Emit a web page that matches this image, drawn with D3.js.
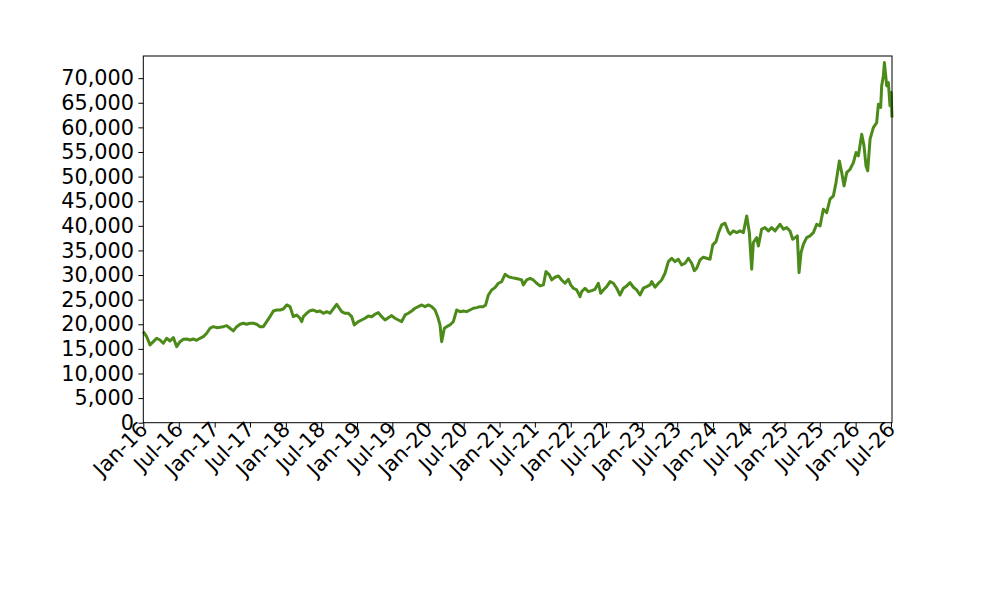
<!DOCTYPE html>
<html>
<head>
<meta charset="utf-8">
<script src="https://cdn.jsdelivr.net/npm/d3@7"></script>
<style>
  html, body { margin: 0; padding: 0; background: #fff; }
  svg { display: block; }
</style>
</head>
<body>
<svg id="chart" width="1000" height="600"></svg>
<script>
// Dates as decimal years
const dates = [
2016.000,2016.047,2016.094,2016.141,2016.188,2016.234,2016.281,2016.328,2016.375,2016.422,
2016.469,2016.515,2016.562,2016.609,2016.656,2016.702,2016.749,2016.796,2016.843,2016.890,
2016.937,2016.983,2017.030,2017.077,2017.124,2017.171,2017.217,2017.264,2017.311,2017.358,
2017.405,2017.451,2017.498,2017.545,2017.592,2017.639,2017.685,2017.732,2017.779,2017.826,
2017.873,2017.919,2017.966,2018.013,2018.060,2018.107,2018.153,2018.200,2018.224,2018.247,
2018.294,2018.341,2018.387,2018.434,2018.481,2018.528,2018.575,2018.621,2018.668,2018.715,
2018.785,2018.832,2018.879,2018.926,2018.963,2019.019,2019.066,2019.113,2019.160,2019.207,
2019.253,2019.300,2019.347,2019.394,2019.440,2019.487,2019.534,2019.581,2019.628,2019.675,
2019.721,2019.768,2019.815,2019.862,2019.909,2019.955,2020.002,2020.049,2020.096,2020.133,
2020.166,2020.189,2020.227,2020.260,2020.306,2020.353,2020.400,2020.447,2020.494,2020.540,
2020.587,2020.634,2020.681,2020.728,2020.774,2020.807,2020.845,2020.891,2020.938,2020.985,
2021.032,2021.079,2021.125,2021.172,2021.219,2021.266,2021.313,2021.336,2021.383,2021.430,
2021.476,2021.523,2021.570,2021.617,2021.654,2021.701,2021.734,2021.781,2021.828,2021.874,
2021.921,2021.968,2022.001,2022.038,2022.085,2022.132,2022.155,2022.202,2022.249,2022.296,
2022.342,2022.389,2022.422,2022.459,2022.506,2022.553,2022.600,2022.647,2022.693,2022.740,
2022.787,2022.834,2022.881,2022.927,2022.974,2023.021,2023.068,2023.115,2023.138,2023.185,
2023.232,2023.278,2023.325,2023.372,2023.419,2023.466,2023.512,2023.559,2023.606,2023.653,
2023.700,2023.737,2023.770,2023.817,2023.863,2023.910,2023.957,2023.995,2024.041,2024.074,
2024.121,2024.168,2024.214,2024.238,2024.285,2024.332,2024.378,2024.425,2024.472,2024.509,
2024.542,2024.565,2024.612,2024.636,2024.682,2024.729,2024.776,2024.823,2024.870,2024.940,
2024.987,2025.034,2025.080,2025.118,2025.151,2025.183,2025.207,2025.235,2025.268,2025.314,
2025.361,2025.408,2025.455,2025.502,2025.548,2025.595,2025.642,2025.689,2025.726,2025.773,
2025.806,2025.839,2025.876,2025.923,2025.970,2026.007,2026.040,2026.087,2026.119,2026.147,
2026.171,2026.204,2026.250,2026.297,2026.321,2026.353,2026.367,2026.391,2026.405,2026.424,
2026.438,2026.461,2026.484,2026.500,2026.512
];
const values = [
18500,17480,15800,16460,17150,16800,16140,17150,16600,17280,
15450,16460,16950,17010,16800,17000,16740,17150,17480,18170,
19190,19510,19310,19400,19510,19720,19190,18640,19510,20000,
20200,20000,20200,20200,20000,19510,19510,20530,21540,22700,
22900,22900,23110,23920,23580,21540,21890,21220,20530,21540,
22230,22760,22900,22560,22700,22230,22560,22230,23110,24060,
22560,22230,22230,21540,19860,20530,20870,21220,21690,21540,
22030,22360,21540,20870,21340,21750,21220,20870,20530,21890,
22230,22700,23250,23580,23920,23580,23920,23580,22900,21540,
19860,16460,19190,19510,19860,20530,22900,22560,22700,22560,
22900,23250,23380,23580,23580,23920,25950,26970,27440,28330,
28660,30160,29670,29470,29350,29210,29000,27990,29000,29300,
29000,28330,27790,27990,30690,30020,29000,29550,29820,29000,
28330,29150,27990,27320,26970,25610,26630,27320,26630,26830,
27110,28330,26300,26970,27640,28660,28330,27320,25950,27320,
27790,28450,27520,26970,25950,27320,27640,27990,28660,27520,
28330,29000,30370,32720,33410,32720,33210,32050,32400,33410,
32400,30890,31380,33070,33620,33410,33210,36120,36790,38490,
40180,40530,38800,38290,38960,38620,38960,38620,42010,38620,
31180,36590,37600,35910,39310,39640,38960,39640,38960,40320,
39310,39640,38960,37270,37600,37950,30490,34550,36260,37600,
37950,38620,40320,39980,43370,42680,45410,46080,48780,53190,
50810,48110,50810,51500,52850,54880,54210,58620,56240,52170,
51160,57600,59960,60980,64720,64030,68430,70470,73170,70470,
68430,69110,64370,67070,62000
];
const yTicks = [0,5000,10000,15000,20000,25000,30000,35000,40000,45000,50000,55000,60000,65000,70000];
const yMax = 74500;
const tickStart = "2016-01-01", tickEnd = "2026-07-01";

(function () {
  const YEAR_MS = 365.25 * 86400000;
  const t0 = Date.UTC(2016, 0, 1);
  const toDate = yr => new Date(t0 + (yr - 2016) * YEAR_MS);
  const data = dates.map((d, i) => ({ date: toDate(d), value: values[i] }));

  const pL = 143.3, pR = 892, pT = 56, pB = 422.7;
  const svg = d3.select("#chart");
  svg.append("rect").attr("width", 1000).attr("height", 600).attr("fill", "#fff");

  const x = d3.scaleUtc().domain(d3.extent(data, d => d.date)).range([pL, pR]);
  const y = d3.scaleLinear().domain([0, yMax]).range([pB, pT]);

  const font = "'DejaVu Sans', sans-serif";
  const fs = "20.8px";

  // Line
  svg.append("path")
    .datum(data)
    .attr("fill", "none")
    .attr("stroke", "#4c8b1a")
    .attr("stroke-width", 3)
    .attr("stroke-linejoin", "round")
    .attr("d", d3.line().x(d => x(d.date)).y(d => y(d.value)));

  // Y axis
  const yAxis = svg.append("g")
    .attr("transform", `translate(${pL},0)`)
    .call(d3.axisLeft(y).tickValues(yTicks).tickFormat(d3.format(",")).tickSize(4.9).tickPadding(4.4).tickSizeOuter(0));
  yAxis.attr("font-size", null).attr("font-family", null);
  yAxis.select(".domain").remove();
  yAxis.selectAll("text").style("font-family", font).style("font-size", fs).attr("fill", "#000");
  yAxis.selectAll("line").attr("stroke", "#000");

  // X axis
  const xTicks = d3.utcMonth.every(6).range(new Date(tickStart + "T00:00:00Z"), new Date(new Date(tickEnd + "T00:00:00Z").getTime() + 1));
  const xAxis = svg.append("g")
    .attr("transform", `translate(0,${pB})`)
    .call(d3.axisBottom(x).tickValues(xTicks).tickFormat(d3.utcFormat("%b-%y")).tickSize(4.9).tickSizeOuter(0));
  xAxis.attr("font-size", null).attr("font-family", null);
  xAxis.select(".domain").remove();
  xAxis.selectAll("line").attr("stroke", "#000");
  xAxis.selectAll("text")
    .style("font-family", font).style("font-size", fs).attr("fill", "#000")
    .attr("text-anchor", "end")
    .attr("x", 0).attr("y", 0).attr("dy", 0)
    .attr("transform", "translate(5,8) rotate(-45)");

  // Frame
  svg.append("rect")
    .attr("x", pL).attr("y", pT)
    .attr("width", pR - pL).attr("height", pB - pT)
    .attr("fill", "none").attr("stroke", "#000").attr("stroke-width", 1);
})();
</script>
</body>
</html>
